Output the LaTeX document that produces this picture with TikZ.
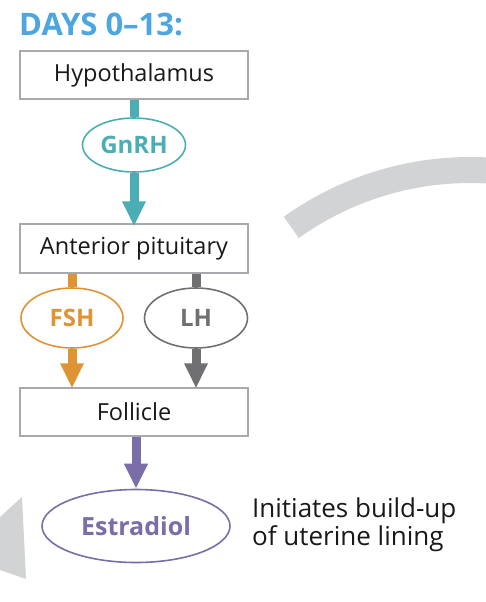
\documentclass[tikz,border=0pt]{standalone}
\usepackage{fontspec}
\setmainfont{Open Sans}
\usetikzlibrary{arrows.meta,shapes.geometric}
\definecolor{titleblue}{HTML}{4DA6E0}
\definecolor{teal}{HTML}{4AAEB4}
\definecolor{orng}{HTML}{DE9334}
\definecolor{lhgray}{HTML}{707073}
\definecolor{purp}{HTML}{7A6DA8}
\definecolor{bandgray}{HTML}{D1D3D4}
\definecolor{boxgray}{HTML}{A7A9AC}
\tikzset{
  organ/.style={draw=boxgray, line width=1.4pt, rectangle, minimum width=228pt, minimum height=48pt, inner sep=0pt, font=\fontsize{23.5}{27}\selectfont, text=black!90},
  horm/.style={ellipse, draw=#1, line width=1.6pt, text=#1, inner sep=0pt, font=\bfseries\fontsize{24}{28}\selectfont},
  bar/.style={draw=#1, line width=9pt},
  flow/.style={draw=#1, line width=9pt, -{Triangle[length=25pt,width=22pt]}},
}
\begin{document}
\begin{tikzpicture}[x=1pt,y=-1pt]
\useasboundingbox (0,0) rectangle (486,602);
\clip (0,0) rectangle (486,602);
% background cycle arcs
\draw[bandgray, line width=26pt] plot[domain=234.4:290, samples=60] ({470+307*cos(\x)},{477+307*sin(\x)});
\fill[bandgray] (0,517) -- (22,497) -- (26,579) -- (0,570) -- cycle;
% title
\node[anchor=base west, inner sep=0pt, text=titleblue, font=\bfseries\fontsize{31}{35}\selectfont] (title) at (19,36) {DAYS 0–13:};
% nodes
\node[organ] (hyp) at (134,75) {Hypothalamus};
\node[horm=teal, minimum width=103pt, minimum height=54pt] (gnrh) at (134,145) {GnRH};
\node[organ, minimum height=49pt] (ant) at (134,248.5) {Anterior pituitary};
\node[horm=orng, minimum width=102pt, minimum height=60pt] (fsh) at (72,318) {FSH};
\node[horm=lhgray, minimum width=103pt, minimum height=60pt] (lh) at (196,318) {LH};
\node[organ] (fol) at (134,412) {Follicle};
\node[horm=purp, minimum width=188pt, minimum height=73pt, font=\bfseries\fontsize{25}{30}\selectfont] (est) at (136,526) {Estradiol};
\node[anchor=west, align=left, inner sep=0pt, font=\fontsize{26}{28}\selectfont, text=black!90] (eff) at (252,525) {Initiates build-up\\of uterine lining};
% connectors
\draw[bar=teal] (hyp.south) -- (gnrh.north);
\draw[flow=teal] (gnrh.south) -- ([yshift=-3pt]ant.north);
\draw[bar=orng] (ant.south -| fsh.north) -- (fsh.north);
\draw[flow=orng] (fsh.south) -- ([yshift=-1pt]fol.north -| fsh.south);
\draw[bar=lhgray] (ant.south -| lh.north) -- (lh.north);
\draw[flow=lhgray] (lh.south) -- ([yshift=-1pt]fol.north -| lh.south);
\draw[flow=purp] (fol.south -| est.north) -- (est.north);
\end{tikzpicture}
\end{document}
